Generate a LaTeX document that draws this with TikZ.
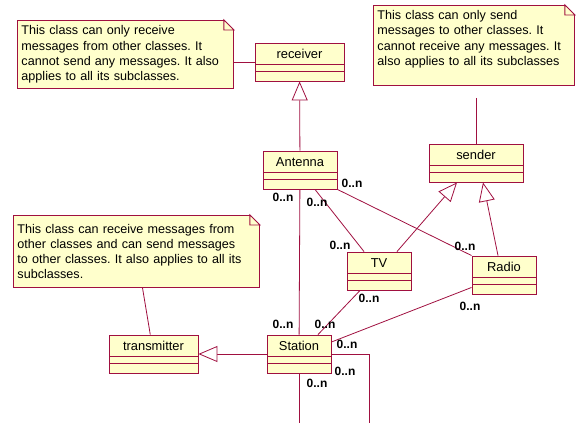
\documentclass[tikz,border=0pt]{standalone}
\usepackage{fontspec}
\setmainfont{Liberation Sans}
\usepackage{tikz}
\usetikzlibrary{arrows.meta, positioning, calc}
\definecolor{umlred}{RGB}{160, 16, 64}
\definecolor{umlyellow}{RGB}{255, 255, 204}
\frenchspacing
\tikzset{
  umlclass/.style={draw=umlred, fill=umlyellow, line width=0.9pt,
    font=\fontsize{12.9}{14}\selectfont, text height=9pt, text depth=17pt,
    inner ysep=6pt, inner xsep=0pt,
    path picture={
      \draw[umlred, line width=0.9pt]
        ([yshift=-21pt]path picture bounding box.north west) -- ([yshift=-21pt]path picture bounding box.north east)
        ([yshift=-28pt]path picture bounding box.north west) -- ([yshift=-28pt]path picture bounding box.north east);
    }},
  umlnote/.style={draw=umlred, fill=umlyellow, line width=0.9pt, anchor=north west,
    font=\fontsize{12.6}{15.3}\selectfont, align=left, inner xsep=4pt, inner ysep=0pt},
  assoc/.style={draw=umlred, line width=0.8pt},
  generalize/.style={assoc, -{Triangle[open, length=19pt, width=16pt, fill=white]}},
  mult/.style={font=\fontsize{12}{13}\selectfont\bfseries, inner sep=0pt},
}

\begin{document}
\begin{tikzpicture}[x=1pt, y=-1pt]
    \useasboundingbox (0,0) rectangle (577,423);

    % notes
    \node[umlnote, text width=208pt, minimum height=68pt] (n1) at (17, 20)
      {This class can only receive\\messages from other classes. It\\cannot send any messages. It also\\applies to all its subclasses.};
    \node[umlnote, text width=193pt, minimum height=80pt] (n2) at (373, 5)
      {This class can only send\\messages to other classes. It\\cannot receive any messages. It\\also applies to all its subclasses\\ \mbox{}};
    \node[umlnote, text width=238pt, minimum height=72pt] (n3) at (13, 215)
      {This class can receive messages from\\other classes and can send messages\\to other classes. It also applies to all its\\subclasses.};
    \foreach \n in {n1, n2, n3} {
      \fill[white] ([xshift=-10pt, yshift=1pt]\n.north east) -- ([xshift=1pt, yshift=1pt]\n.north east)
        -- ([xshift=1pt, yshift=-10pt]\n.north east) -- ([yshift=-10pt]\n.north east)
        -- ([xshift=-10pt]\n.north east) -- cycle;
      \draw[umlred, line width=0.9pt] ([xshift=-10pt]\n.north east) -- ([yshift=-10pt]\n.north east)
        -- ([xshift=-10pt, yshift=-10pt]\n.north east) -- cycle;
    }

    % classes
    \node[umlclass, minimum width=89pt] (receiver) at (299.5, 62) {receiver};
    \node[umlclass, minimum width=94pt] (sender) at (476, 163) {sender};
    \node[umlclass, minimum width=74pt] (antenna) at (300, 170) {Antenna};
    \node[umlclass, minimum width=64pt] (tv) at (379, 271) {TV};
    \node[umlclass, minimum width=64pt] (radio) at (504, 275) {Radio};
    \node[umlclass, minimum width=64pt] (station) at (299, 354) {Station};
    \node[umlclass, minimum width=89pt] (transmitter) at (153.5, 354) {transmitter};

    \coordinate (out1) at (369, 423);
    \coordinate (out2) at (299, 423);

    % note links
    \draw[assoc] (n1.east |- receiver) -- (receiver);
    \draw[assoc, shorten <=12pt] (n2.south -| sender.north) -- (sender);
    \draw[assoc] (n3) -- (transmitter);

    % generalization
    \draw[generalize] (antenna) -- (receiver);
    \draw[generalize] ([xshift=18pt]tv.north) -- ([xshift=-19pt]sender.south);
    \draw[generalize] ([xshift=-6pt]radio.north) -- ([xshift=7pt]sender.south);
    \draw[generalize] (station) -- (transmitter);

    % associations
    \draw[assoc] (antenna) -- (station);
    \draw[assoc] ([xshift=15pt]antenna.south) -- ([xshift=-15pt]tv.north);
    \draw[assoc] (antenna.south east) -- (radio.north west);
    \draw[assoc] ([xshift=-19pt]tv.south) -- ([xshift=19pt]station.north);
    \draw[assoc] ([yshift=7pt]radio.south west) -- ([yshift=12pt]station.east);
    \draw[assoc] (station.east) -| (out1);
    \draw[assoc] (station.south) -- (out2);

    % multiplicities
    \node[mult] (m1) at (352, 183) {0..n};
    \node[mult] (m2) at (283, 197) {0..n};
    \node[mult] (m3) at (317, 202) {0..n};
    \node[mult] (m4) at (340, 245) {0..n};
    \node[mult] (m5) at (465, 246) {0..n};
    \node[mult] (m6) at (369, 298) {0..n};
    \node[mult] (m7) at (470, 306) {0..n};
    \node[mult] (m8) at (283, 324) {0..n};
    \node[mult] (m9) at (325, 324) {0..n};
    \node[mult] (m10) at (347, 344) {0..n};
    \node[mult] (m11) at (345, 371) {0..n};
    \node[mult] (m12) at (317, 383) {0..n};
\end{tikzpicture}
\end{document}
